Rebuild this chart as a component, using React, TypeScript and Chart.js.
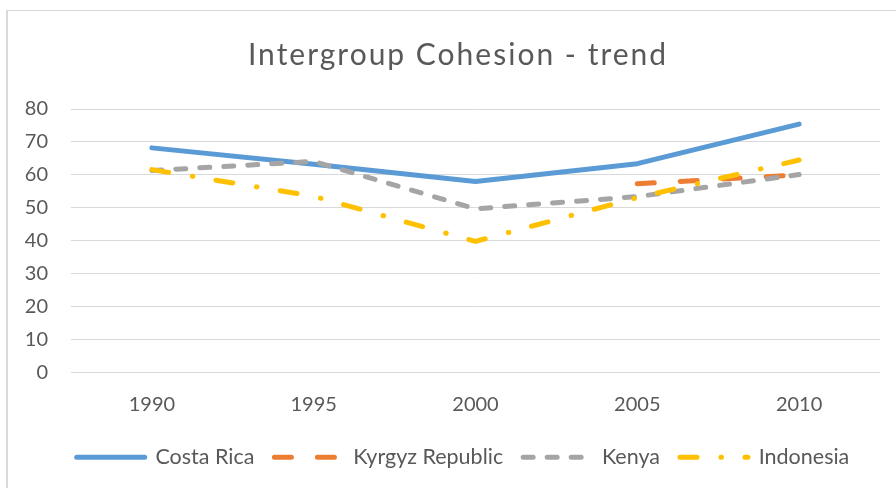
import React, { useEffect, useRef } from 'react';
import { Chart, registerables } from 'chart.js';

Chart.register(...registerables);

const categories = ['1990', '1995', '2000', '2005', '2010'];
const costaRica = [68.2, 63.2, 58, 63.4, 75.4];
const kyrgyzRepublic = [null, null, null, 57.3, 60];
const kenya = [61.3, 64.1, 49.7, 53.4, 60.1];
const indonesia = [61.6, 53.5, 39.8, 53.1, 64.5];
const seriesNames = ['Costa Rica', 'Kyrgyz Republic', 'Kenya', 'Indonesia'];
const chartTitle = 'Intergroup Cohesion - trend';
const yMin = 0;
const yMax = 80;
const yStep = 10;

const TEXT = '#595959';
const FONT = 'Lato, "Open Sans", sans-serif';

const titlePlugin = {
  id: 'spacedTitle',
  afterDraw(chart: any) {
    const ctx = chart.ctx as CanvasRenderingContext2D;
    ctx.save();
    ctx.font = `30px ${FONT}`;
    (ctx as any).letterSpacing = '2px';
    ctx.fillStyle = TEXT;
    ctx.textAlign = 'center';
    ctx.textBaseline = 'alphabetic';
    ctx.fillText(chartTitle, 458, 65);
    ctx.restore();
  },
};

export default function App() {
  const ref = useRef<HTMLCanvasElement>(null);

  useEffect(() => {
    if (!ref.current) return;
    const common = {
      pointRadius: 0,
      pointHoverRadius: 0,
      pointStyle: 'line' as const,
      borderWidth: 5,
      borderCapStyle: 'round' as const,
      borderJoinStyle: 'round' as const,
      tension: 0,
      fill: false,
      yAxisID: 'y',
    };
    const chart = new Chart(ref.current, {
      type: 'line',
      data: {
        labels: categories,
        datasets: [
          { ...common, label: seriesNames[0], data: costaRica, borderColor: '#5B9BD5', backgroundColor: '#5B9BD5', order: 4 },
          { ...common, label: seriesNames[1], data: kyrgyzRepublic, borderColor: '#ED7D31', backgroundColor: '#ED7D31', borderDash: [17, 26], order: 3 },
          { ...common, label: seriesNames[2], data: kenya, borderColor: '#A5A5A5', backgroundColor: '#A5A5A5', borderDash: [10, 14], order: 2 },
          { ...common, label: seriesNames[3], data: indonesia, borderColor: '#FFC000', backgroundColor: '#FFC000', borderDash: [17, 24, 0.5, 23.5], order: 1 },
        ],
      },
      options: {
        responsive: false,
        animation: false,
        devicePixelRatio: 1,
        layout: { padding: { left: 22, right: -8, top: 109, bottom: 10 } },
        plugins: {
          title: { display: false },
          legend: {
            position: 'bottom',
            labels: {
              usePointStyle: true,
              pointStyle: 'line',
              pointStyleWidth: 68,
              padding: 20,
              color: TEXT,
              font: { family: FONT, size: 21.5 },
              sort: (a: any, b: any) => a.datasetIndex - b.datasetIndex,
              generateLabels: (c: any) => {
                const items = Chart.defaults.plugins.legend.labels.generateLabels(c);
                return items.map((it: any) => {
                  const ds: any = c.data.datasets[it.datasetIndex];
                  return {
                    ...it,
                    lineDash: ds.borderDash || [],
                    lineCap: 'round',
                    lineWidth: 5,
                    strokeStyle: ds.borderColor,
                    fillStyle: ds.borderColor,
                    pointStyle: 'line',
                  };
                });
              },
            },
          },
          tooltip: { enabled: false },
        },
        scales: {
          x: {
            offset: true,
            grid: { display: false, drawTicks: false },
            border: { display: false },
            ticks: { color: TEXT, font: { family: FONT, size: 20 }, padding: 20, maxRotation: 0 },
            afterFit: (s: any) => { s.height = 54; },
          },
          y: {
            position: 'left',
            min: yMin,
            max: yMax,
            grid: { color: '#D9D9D9', lineWidth: 1, drawTicks: false },
            border: { display: false },
            ticks: { stepSize: yStep, color: TEXT, font: { family: FONT, size: 20 }, padding: 23 },
            afterFit: (s: any) => { s.width = 49; },
          },
          y2: {
            position: 'right',
            display: true,
            grid: { display: false, drawTicks: false },
            border: { display: false },
            ticks: { display: false },
            afterFit: (s: any) => { s.width = 24; },
          },
        },
      },
      plugins: [titlePlugin],
    });
    return () => chart.destroy();
  }, []);

  return (
    <div style={{ position: 'fixed', left: 0, top: 0, width: 896, height: 488, overflow: 'hidden', background: '#fff' }}>
      <div style={{ position: 'absolute', left: 6, top: 10, width: 2000, height: 2000, borderLeft: '2px solid #d9d9d9', borderTop: '1px solid #d9d9d9' }} />
      <canvas ref={ref} width={896} height={488} style={{ position: 'absolute', left: 0, top: 0, width: 896, height: 488 }} />
    </div>
  );
}
